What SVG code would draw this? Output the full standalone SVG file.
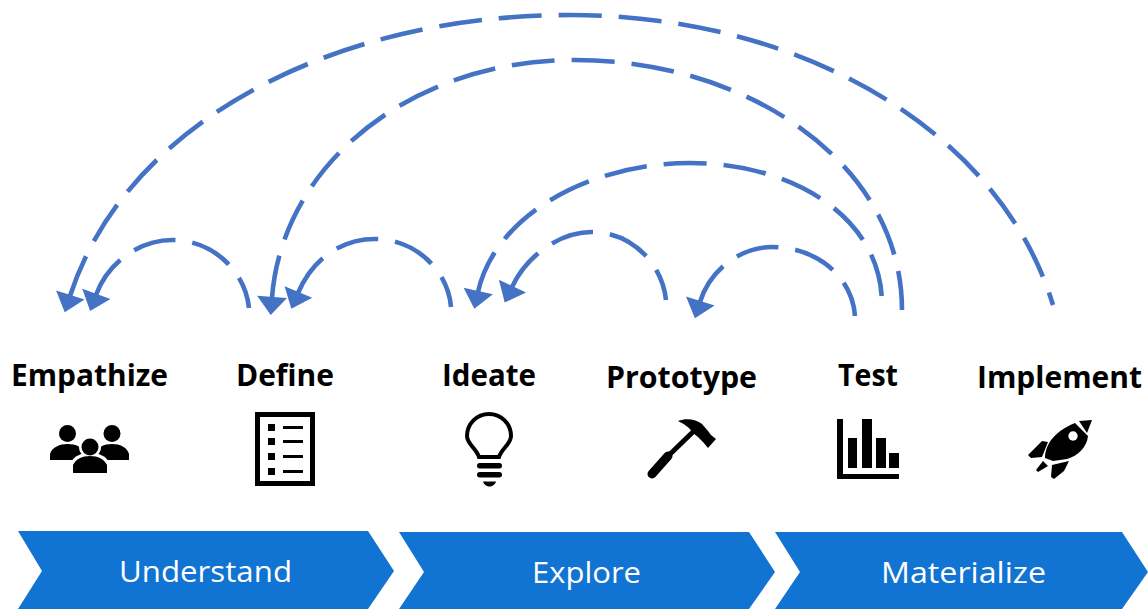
<svg xmlns="http://www.w3.org/2000/svg" width="1148" height="609" viewBox="0 0 1148 609">
<style>
.arc{fill:none;stroke:#4472C4;stroke-width:4.600;stroke-dasharray:43 17;marker-start:url(#head)}
.t{font-family:"Open Sans","Liberation Sans",sans-serif;font-weight:700;font-size:30px;fill:#000}
.p{font-family:"Open Sans","Liberation Sans",sans-serif;font-size:30px;fill:#fff}
.c{fill:#1174D2}
.k{fill:#000}
</style>
<defs>
<marker id="head" markerUnits="userSpaceOnUse" markerWidth="30" markerHeight="30" refX="1" refY="14" orient="auto-start-reverse" viewBox="0 0 18 28"><path d="M0 0L17 14L0 28Z" fill="#4472C4"/></marker>
</defs>
<rect width="1148" height="609" fill="#fff"/>
<g id="connectors">
<path class="arc" d="M70 296C125 125 330 15 570 15C800 15 1000 130 1053 305"/>
<path class="arc" d="M272 298C282 165 410 60 575 60C750 60 902 165 902 310"/>
<path class="arc" d="M478 292C495 215 590 163 690 163C790 163 880 215 882 302"/>
<path class="arc" d="M700 302C710 270 740 247 772 247C815 247 852 275 855 316"/>
<path class="arc" d="M512 287C527 255 560 232 592 232C630 232 662 262 666 300"/>
<path class="arc" d="M298 293C312 260 340 239 375 239C415 239 448 270 451 307"/>
<path class="arc" d="M96 295C108 262 140 240 172 240C212 240 245 270 249 308"/>
</g>
<g id="understand"><path class="c" d="M18 531H368L394 571L368 609H18L42 571Z"/><text class="p" x="119" y="582" textLength="173" lengthAdjust="spacingAndGlyphs">Understand</text></g>
<g id="explore"><path class="c" d="M399 532H749L775 572L749 609H399L424 572Z"/><text class="p" x="532" y="583" textLength="109" lengthAdjust="spacingAndGlyphs">Explore</text></g>
<g id="materialize"><path class="c" d="M775 532H1122L1148 572L1122 609H775L800 572Z"/><text class="p" x="881" y="583" textLength="165" lengthAdjust="spacingAndGlyphs">Materialize</text></g>
<g id="empathize">
<text class="t" x="11" y="386" textLength="157" lengthAdjust="spacingAndGlyphs">Empathize</text>
<circle class="k" cx="67.500" cy="433.500" r="8.500"/><circle class="k" cx="112" cy="433.500" r="8.500"/>
<path class="k" d="M50 460V454C52 447 60 444 67.500 444C76 444 83 447 85 454V460ZM95 460V454C97 447 104 444 112 444C120 444 127 447 129 454V460Z"/>
<circle cx="90" cy="447" r="11" fill="#fff"/><path d="M70 476V464C74 455 82 453 90 453C98 453 106 455 110 464V476Z" fill="#fff"/>
<circle class="k" cx="90" cy="447" r="8.500"/><path class="k" d="M73 473V465C76 459 82 456 90 456C98 456 104 459 107 465V473Z"/>
</g>
<g id="define">
<text class="t" x="236" y="386" textLength="98" lengthAdjust="spacingAndGlyphs">Define</text>
<rect x="257.500" y="414.500" width="55" height="69" fill="none" stroke="#000" stroke-width="5"/>
<path class="k" d="M268 424h7v7h-7zM268 438h7v7h-7zM268 453h7v7h-7zM268 468h7v7h-7zM283 426h20v3h-20zM283 440h20v3h-20zM283 455h20v3h-20zM283 470h20v3h-20z"/>
</g>
<g id="ideate">
<text class="t" x="442" y="386" textLength="94" lengthAdjust="spacingAndGlyphs">Ideate</text>
<path d="M479 457C476 448 467 444 467 436A22 22 0 0 1 511 436C511 444 502 448 499 457Z" fill="none" stroke="#000" stroke-width="4"/>
<rect class="k" x="477" y="463" width="25" height="5.500" rx="2.700"/><rect class="k" x="477" y="472" width="25" height="5.500" rx="2.700"/>
<path class="k" d="M483 481.500H496C495 485 492 486.500 489.500 486.500C487 486.500 484 485 483 481.500Z"/>
</g>
<g id="prototype">
<text class="t" x="606" y="388" textLength="151" lengthAdjust="spacingAndGlyphs">Prototype</text>
<path d="M652 474L668 456" stroke="#000" stroke-width="9" stroke-linecap="round"/>
<path d="M665 459L697 428" stroke="#000" stroke-width="5"/>
<path class="k" d="M678 421C686 418 696 419 702 424L708 431L711 435L716 439L708 448L703 442L698 437L693 433C689 427 684 424 678 421Z"/>
</g>
<g id="test">
<text class="t" x="838" y="386" textLength="60" lengthAdjust="spacingAndGlyphs">Test</text>
<path class="k" d="M837 419h6v55h56v5h-62zM848 438h9v30h-9zM862 419h10v49h-10zM876 438h10v30h-10zM889 453h10v15h-10z"/>
</g>
<g id="implement">
<text class="t" x="977" y="388" textLength="165" lengthAdjust="spacingAndGlyphs">Implement</text>
<path class="k" d="M1079 421L1092 420L1087 433ZM1075 423L1088 436C1087 447 1078 456 1067 459L1053 461L1045 458C1045 447 1052 432 1075 423Z"/>
<circle cx="1073" cy="436" r="4.700" fill="#fff"/>
<path class="k" d="M1028 455L1042 441L1048 442L1042 457L1031 458ZM1052 465L1069 461L1064 471L1054 479L1051 477ZM1036 470L1043 461L1048 466L1038 472Z"/>
</g>
</svg>
